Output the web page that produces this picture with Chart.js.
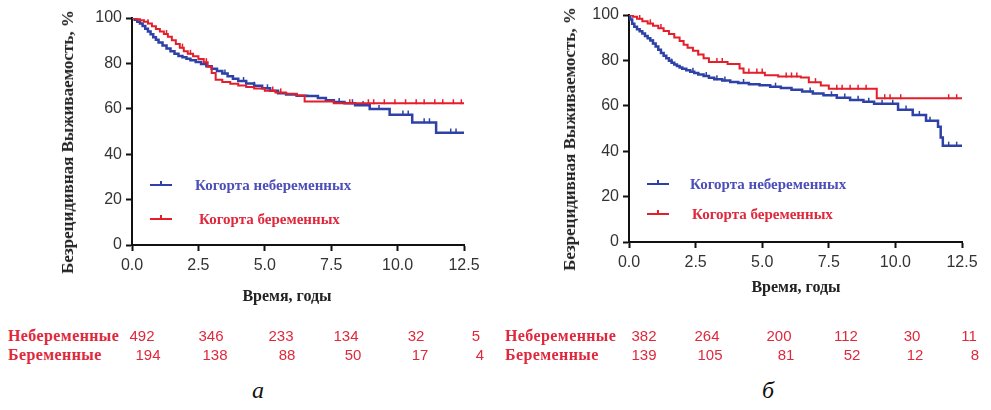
<!DOCTYPE html>
<html>
<head>
<meta charset="utf-8">
<script src="https://cdn.jsdelivr.net/npm/chart.js@4"></script>
<style>
  body { margin: 0; background: #fff; width: 991px; height: 410px; position: relative; overflow: hidden; }
  .box { position: absolute; }
  .leg { position: absolute; font: bold 15px "Liberation Serif", serif; line-height: 16px; white-space: nowrap; }
  .seg { position: absolute; height: 2px; width: 22px; }
  .seg::after { content: ""; position: absolute; left: 10px; top: -3px; width: 1.5px; height: 4px; background: inherit; }
  .lab { position: absolute; font: bold 16px "Liberation Serif", serif; letter-spacing: 0.4px; color: #e0283c; line-height: 18px; white-space: nowrap; }
  .num { position: absolute; font: 15px "Liberation Sans", Arial, sans-serif; color: #e0283c; line-height: 18px; transform: translateX(-50%); }
  .panel { position: absolute; font: italic 24px "Liberation Serif", serif; color: #111; transform: translateX(-50%); }
  .ytitle { position: absolute; font: bold 17px "Liberation Serif", serif; color: #222; white-space: nowrap; line-height: 18px; transform: translate(-50%, -50%) rotate(-90deg); }
  .xtitle { position: absolute; font: bold 16px "Liberation Serif", serif; color: #222; white-space: nowrap; line-height: 18px; transform: translate(-50%, -50%); }
</style>
</head>
<body>
<div class="box" style="left:0;top:0;width:495px;height:290px"><canvas id="chart-a"></canvas></div>
<div class="box" style="left:495px;top:0;width:496px;height:285px"><canvas id="chart-b"></canvas></div>
<div id="extras"></div>

<script>
// Panel a: years / survival %
const timesNonPregA = [0, 0.1, 0.2, 0.3, 0.4, 0.5, 0.6, 0.7, 0.8, 0.9, 1.0, 1.15, 1.3, 1.45, 1.6, 1.75, 1.9, 2.05, 2.2, 2.4, 2.6, 2.8, 3.0, 3.2, 3.4, 3.6, 3.8, 4.0, 4.3, 4.6, 4.9, 5.2, 5.5, 5.8, 6.2, 6.6, 7.0, 7.3, 7.6, 8.0, 8.4, 8.95, 9.7, 10.55, 11.45];
const survNonPregA = [100, 99.2, 98.3, 97.6, 96.5, 95.3, 94.0, 92.8, 91.5, 90.4, 89.2, 87.9, 86.6, 85.3, 84.3, 83.3, 82.7, 82.0, 81.4, 80.6, 79.7, 78.7, 77.6, 76.6, 75.5, 74.3, 73.2, 72.2, 71.2, 70.1, 69.0, 67.9, 66.8, 66.3, 65.8, 65.6, 64.8, 63.8, 63.0, 62.4, 61.6, 59.9, 57.4, 54.0, 49.5];
const censorNonPregA = [3.5, 4.2, 4.6, 5.1, 7.8, 8.3, 8.7, 9.3, 10.2, 10.4, 11.0, 11.2, 12.0, 12.2];

const timesPregA = [0, 0.15, 0.3, 0.45, 0.6, 0.75, 0.9, 1.05, 1.2, 1.35, 1.5, 1.65, 1.8, 1.95, 2.1, 2.3, 2.5, 2.7, 2.85, 3.0, 3.15, 3.4, 3.7, 4.0, 4.3, 4.6, 5.0, 5.4, 5.8, 6.2, 6.5, 7.6];
const survPregA = [100, 99.5, 99.0, 98.4, 97.6, 96.4, 95.2, 94.1, 92.9, 91.7, 90.2, 88.5, 86.9, 85.4, 84.2, 83.1, 81.9, 80.5, 78.5, 75.8, 72.8, 71.8, 71.0, 70.3, 69.6, 68.9, 68.0, 67.2, 66.6, 65.9, 63.2, 62.4];
const censorPregA = [0.6, 1.3, 1.9, 2.2, 2.8, 5.3, 5.6, 8.2, 8.9, 9.1, 9.5, 9.9, 10.3, 10.7, 11.0, 11.4, 11.7, 12.1, 12.4];

// Panel б
const timesNonPregB = [0, 0.05, 0.12, 0.2, 0.3, 0.4, 0.5, 0.6, 0.7, 0.8, 0.9, 1.0, 1.1, 1.2, 1.3, 1.4, 1.5, 1.6, 1.7, 1.8, 1.9, 2.0, 2.15, 2.3, 2.45, 2.6, 2.8, 3.0, 3.2, 3.5, 3.8, 4.1, 4.5, 4.9, 5.3, 5.7, 6.1, 6.5, 6.9, 7.3, 7.8, 8.3, 8.8, 9.2, 10.1, 10.65, 11.15, 11.6, 11.7, 11.78];
const survNonPregB = [100, 98.0, 96.2, 94.8, 93.7, 92.8, 91.8, 90.8, 89.8, 88.8, 87.5, 86.1, 84.7, 83.3, 82.0, 80.9, 79.9, 79.0, 78.2, 77.5, 76.9, 76.3, 75.7, 75.0, 74.4, 73.8, 73.1, 72.4, 71.7, 71.1, 70.5, 70.0, 69.5, 69.0, 68.4, 67.8, 67.1, 66.3, 65.4, 64.6, 63.6, 62.6, 61.8, 60.9, 58.3, 55.9, 53.4, 50.8, 46.0, 42.4];
const censorNonPregB = [0.9, 1.6, 2.4, 2.9, 3.3, 3.6, 4.3, 5.5, 6.8, 7.6, 8.1, 8.6, 9.0, 9.5, 9.9, 10.4, 10.9, 11.3, 12.0, 12.3];

const timesPregB = [0, 0.15, 0.3, 0.5, 0.7, 0.9, 1.1, 1.3, 1.5, 1.7, 1.9, 2.05, 2.2, 2.4, 2.6, 2.8, 3.0, 3.7, 4.15, 4.3, 5.1, 5.6, 6.45, 6.75, 7.2, 7.5, 9.3];
const survPregB = [100, 99.2, 98.3, 97.3, 96.3, 95.3, 94.2, 93.0, 91.6, 90.1, 88.5, 86.9, 85.6, 84.2, 82.6, 81.0, 79.3, 78.4, 76.4, 74.6, 73.5, 72.9, 72.5, 70.4, 68.9, 67.5, 63.3];
const censorPregB = [0.4, 0.8, 1.2, 2.6, 3.3, 3.5, 4.5, 4.8, 5.0, 5.9, 6.1, 6.3, 7.0, 7.8, 8.0, 8.3, 8.6, 8.9, 9.6, 9.8, 10.2, 12.0, 12.3];

const xTicks = [0, 2.5, 5, 7.5, 10, 12.5];
const yTicks = [0, 20, 40, 60, 80, 100];

// numbers at risk
const riskLabels = ["Небеременные", "Беременные"];
const riskNonPregA = [492, 346, 233, 134, 32, 5];
const riskPregA = [194, 138, 88, 50, 17, 4];
const riskNonPregB = [382, 264, 200, 112, 30, 11];
const riskPregB = [139, 105, 81, 52, 12, 8];

const legendLabels = ["Когорта небеременных", "Когорта беременных"];
const yTitle = "Безрецидивная Выживаемость, %";
const xTitle = "Время, годы";

const BLUE = "#2d41a6";
const RED = "#e41e2b";
const TICKFONT = { family: "'Liberation Sans', Arial, sans-serif", size: 16 };

function curve(times, surv) {
  const pts = times.map((t, i) => ({ x: t, y: surv[i] }));
  pts.push({ x: 12.5, y: surv[surv.length - 1] });
  return pts;
}

function survAt(times, surv, t) {
  let s = surv[0];
  for (let i = 0; i < times.length; i++) {
    if (times[i] <= t) s = surv[i];
  }
  return s;
}

function censorPts(cens, times, surv) {
  return cens.map((t) => ({ x: t, y: survAt(times, surv, t) + 0.7 }));
}

function lineSet(data, color, width) {
  return {
    type: "line",
    data: data,
    borderColor: color,
    borderWidth: width,
    stepped: "before", // hold the value, then drop at the event time
    pointRadius: 0,
    fill: false,
  };
}

function censorSet(data, color) {
  return {
    type: "scatter",
    data: data,
    borderColor: color,
    backgroundColor: color,
    pointStyle: "line",
    rotation: 90,
    pointRadius: 2.5,
    pointBorderWidth: 1.5,
  };
}

function makeChart(id, sets, cfg) {
  return new Chart(document.getElementById(id), {
    type: "line",
    data: { datasets: sets },
    options: {
      responsive: true,
      maintainAspectRatio: false,
      animation: false,
      layout: { padding: { left: 0, top: cfg.padTop, right: cfg.padRight, bottom: 0 } },
      plugins: { legend: { display: false }, tooltip: { enabled: false } },
      scales: {
        x: {
          type: "linear",
          min: 0,
          max: 12.5,
          afterBuildTicks: (s) => { s.ticks = xTicks.map((v) => ({ value: v })); },
          afterFit: (s) => { s.height = cfg.xHeight; },
          ticks: { color: "#333", font: TICKFONT, padding: 5, maxRotation: 0, callback: (v) => v.toFixed(1) },
          grid: { drawOnChartArea: false, drawTicks: true, tickLength: 6, tickColor: "#111", tickWidth: 2 },
          border: { color: "#111", width: 2 },
        },
        y: {
          min: 0,
          max: 100,
          afterBuildTicks: (s) => { s.ticks = yTicks.map((v) => ({ value: v })); },
          afterFit: (s) => { s.width = cfg.yWidth; },
          ticks: { color: "#333", font: TICKFONT, padding: 4 },
          grid: { drawOnChartArea: false, drawTicks: true, tickLength: 6, tickColor: "#111", tickWidth: 2 },
          border: { color: "#111", width: 2 },
        },
      },
    },
  });
}

makeChart("chart-a", [
  lineSet(curve(timesPregA, survPregA), RED, 2),
  censorSet(censorPts(censorPregA, timesPregA, survPregA), RED),
  lineSet(curve(timesNonPregA, survNonPregA), BLUE, 2.5),
  censorSet(censorPts(censorNonPregA, timesNonPregA, survNonPregA), BLUE),
], { padTop: 18, padRight: 31, yWidth: 132, xHeight: 45 });

makeChart("chart-b", [
  lineSet(curve(timesPregB, survPregB), RED, 2),
  censorSet(censorPts(censorPregB, timesPregB, survPregB), RED),
  lineSet(curve(timesNonPregB, survNonPregB), BLUE, 2.5),
  censorSet(censorPts(censorNonPregB, timesNonPregB, survNonPregB), BLUE),
], { padTop: 15, padRight: 29, yWidth: 134, xHeight: 43 });

// titles, legends, at-risk rows and panel letters
const extras = document.getElementById("extras");
function add(cls, text, style) {
  const el = document.createElement("div");
  el.className = cls;
  el.textContent = text;
  Object.assign(el.style, style);
  extras.appendChild(el);
}

add("ytitle", yTitle, { left: "68px", top: "142px" });
add("ytitle", yTitle, { left: "570px", top: "139px" });
add("xtitle", xTitle, { left: "287px", top: "296px" });
add("xtitle", xTitle, { left: "796px", top: "287px" });

const legendSpots = [
  { segX: 150, textX: [195, 199], y: [185, 219] },
  { segX: 647, textX: [690, 692], y: [184, 214] },
];
legendSpots.forEach((p) => {
  [BLUE, RED].forEach((c, i) => {
    add("seg", "", { left: p.segX + "px", top: p.y[i] - 1 + "px", background: c });
    add("leg", legendLabels[i], { left: p.textX[i] + "px", top: p.y[i] - 8 + "px", color: i === 0 ? "#4d4fb8" : "#e0283c" });
  });
});

const rowY = [327, 346];
const colsA = [[142, 211, 281, 346, 416, 476], [148, 215, 287, 353, 420, 480]];
const colsB = [[644, 707, 779, 846, 912, 969], [644, 710, 786, 852, 915, 975]];
[[8, colsA, [riskNonPregA, riskPregA]], [505, colsB, [riskNonPregB, riskPregB]]].forEach(([lx, cols, rows]) => {
  rows.forEach((vals, r) => {
    add("lab", riskLabels[r], { left: lx + "px", top: rowY[r] + "px" });
    vals.forEach((v, i) => add("num", String(v), { left: cols[r][i] + "px", top: rowY[r] + "px" }));
  });
});

add("panel", "а", { left: "258px", top: "377px" });
add("panel", "б", { left: "768px", top: "377px" });
</script>
</body>
</html>
